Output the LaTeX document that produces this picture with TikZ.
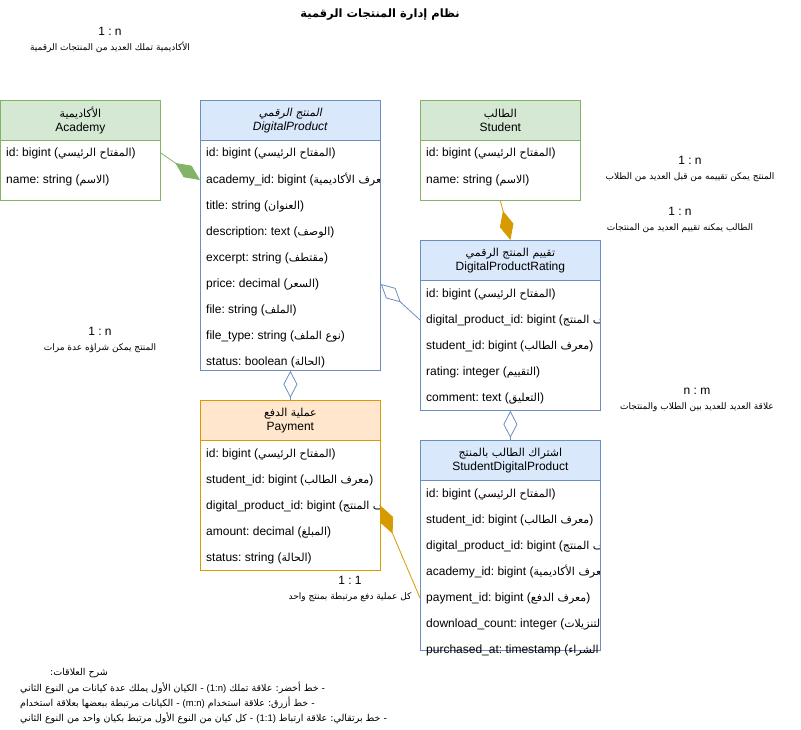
\documentclass[tikz,border=0pt]{standalone}
\usepackage{fontspec}
\setmainfont{Liberation Sans}
\newfontfamily\arabicfont[Script=Arabic]{DejaVu Sans}
\newfontfamily\arabicslfont[Script=Arabic,FakeSlant=0.2]{DejaVu Sans}
\TeXXeTstate=1
\frenchspacing
\usetikzlibrary{arrows.meta}
\definecolor{grnfill}{HTML}{D5E8D4}
\definecolor{grnline}{HTML}{82B366}
\definecolor{bluefill}{HTML}{DAE8FC}
\definecolor{blueline}{HTML}{6C8EBF}
\definecolor{orgfill}{HTML}{FFE6CC}
\definecolor{orgline}{HTML}{D79B00}
\newcommand{\ar}[1]{{\arabicfont\beginR#1\endR}}
\newcommand{\arsm}[1]{{\fontsize{11}{13}\selectfont\arabicfont\beginR#1\endR}}
\newcommand{\arnote}[1]{{\fontsize{9}{11}\selectfont\arabicfont\beginR#1\endR}}
\newcommand{\lt}[1]{\beginL{\rmfamily#1}\endL}

\begin{document}
\frenchspacing
\begin{tikzpicture}[x=1pt,y=-1pt,
  head/.style={draw, line width=0.8pt, anchor=north west, minimum height=40pt, inner sep=0pt, align=center, font=\fontsize{12}{14}\selectfont},
  body/.style={draw, line width=0.8pt, fill=white, anchor=north west, inner sep=0pt},
  row/.style={anchor=west, inner sep=0pt, font=\fontsize{12}{14}\selectfont},
  note/.style={align=center, inner sep=0pt, font=\fontsize{12}{15}\selectfont},
  legend/.style={anchor=west, inner sep=0pt, font=\fontsize{9.5}{11}\selectfont},
  own/.style={line width=0.8pt, -{Diamond[length=30pt,width=14pt]}},
  use/.style={line width=0.8pt, {Diamond[length=27pt,width=14pt,fill=white]}-}]
\useasboundingbox (0,0) rectangle (801,730);

\node[font=\fontsize{11.5}{14}\selectfont\bfseries](title) at (380,15){\ar{نظام إدارة المنتجات الرقمية}};

% academy
\node[head, fill=grnfill, draw=grnline, minimum width=160pt](A) at (0,100){\arsm{الأكاديمية}\\Academy};
\node[body, draw=grnline, minimum width=160pt, minimum height=60pt](Ab) at (0,140){};
\node[row](Aid) at (6,153){id: bigint (\arsm{المفتاح الرئيسي})};
\node[row](Aname) at (6,180){name: string (\arsm{الاسم})};

% digital product
\node[head, fill=bluefill, draw=blueline, minimum width=180pt](D) at (200,100){{\fontsize{11}{13}\selectfont\arabicslfont\beginR المنتج الرقمي\endR}\\\textit{DigitalProduct}};
\node[body, draw=blueline, minimum width=180pt, minimum height=230pt](Db) at (200,140){};
\begin{scope}
\clip (200,140) rectangle (379,380);
\node[row](Did) at (206,153){id: bigint (\arsm{المفتاح الرئيسي})};
\node[row](Dacad) at (206,180){academy\_id: bigint (\arsm{معرف الأكاديمية})};
\node[row](Dtitle) at (206,206){title: string (\arsm{العنوان})};
\node[row](Ddesc) at (206,232){description: text (\arsm{الوصف})};
\node[row](Dexc) at (206,258){excerpt: string (\arsm{مقتطف})};
\node[row](Dprice) at (206,284){price: decimal (\arsm{السعر})};
\node[row](Dfile) at (206,310){file: string (\arsm{الملف})};
\node[row](Dtype) at (206,336){file\_type: string (\arsm{نوع الملف})};
\node[row](Dstat) at (206,362){status: boolean (\arsm{الحالة})};
\end{scope}

% student
\node[head, fill=grnfill, draw=grnline, minimum width=160pt](S) at (420,100){\arsm{الطالب}\\Student};
\node[body, draw=grnline, minimum width=160pt, minimum height=60pt](Sb) at (420,140){};
\node[row](Sid) at (426,153){id: bigint (\arsm{المفتاح الرئيسي})};
\node[row](Sname) at (426,180){name: string (\arsm{الاسم})};

% rating
\node[head, fill=bluefill, draw=blueline, minimum width=180pt](R) at (420,240){\arsm{تقييم المنتج الرقمي}\\DigitalProductRating};
\node[body, draw=blueline, minimum width=180pt, minimum height=130pt](Rb) at (420,280){};
\begin{scope}
\clip (420,280) rectangle (599,420);
\node[row](Rid) at (426,294){id: bigint (\arsm{المفتاح الرئيسي})};
\node[row](Rdpid) at (426,320){digital\_product\_id: bigint (\arsm{معرف المنتج})};
\node[row](Rstid) at (426,346){student\_id: bigint (\arsm{معرف الطالب})};
\node[row](Rrate) at (426,372){rating: integer (\arsm{التقييم})};
\node[row](Rcom) at (426,398){comment: text (\arsm{التعليق})};
\end{scope}

% payment
\node[head, fill=orgfill, draw=orgline, minimum width=180pt](P) at (200,400){\arsm{عملية الدفع}\\Payment};
\node[body, draw=orgline, minimum width=180pt, minimum height=130pt](Pb) at (200,440){};
\begin{scope}
\clip (200,440) rectangle (379,580);
\node[row](Pid) at (206,454){id: bigint (\arsm{المفتاح الرئيسي})};
\node[row](Pstid) at (206,480){student\_id: bigint (\arsm{معرف الطالب})};
\node[row](Pdpid) at (206,506){digital\_product\_id: bigint (\arsm{معرف المنتج})};
\node[row](Pamt) at (206,532){amount: decimal (\arsm{المبلغ})};
\node[row](Pstat) at (206,558){status: string (\arsm{الحالة})};
\end{scope}

% student digital product
\node[head, fill=bluefill, draw=blueline, minimum width=180pt](T) at (420,440){\arsm{اشتراك الطالب بالمنتج}\\StudentDigitalProduct};
\node[body, draw=blueline, minimum width=180pt, minimum height=170pt](Tb) at (420,480){};
\begin{scope}
\clip (420,480) rectangle (599,670);
\node[row](Tid) at (426,494){id: bigint (\arsm{المفتاح الرئيسي})};
\node[row](Tstid) at (426,520){student\_id: bigint (\arsm{معرف الطالب})};
\node[row](Tdpid) at (426,546){digital\_product\_id: bigint (\arsm{معرف المنتج})};
\node[row](Tacad) at (426,572){academy\_id: bigint (\arsm{معرف الأكاديمية})};
\node[row](Tpay) at (426,598){payment\_id: bigint (\arsm{معرف الدفع})};
\node[row](Tdown) at (426,624){download\_count: integer (\arsm{عدد التنزيلات})};
\node[row](Tbuy) at (426,650){purchased\_at: timestamp (\arsm{تاريخ الشراء})};
\end{scope}

\draw[own, grnline](Ab.east |- Aid) -- (Db.west |- Dacad);
\draw[own, orgline](Sb.south) -- (R.north);
\draw[use, blueline](Db.east |- Dprice) -- (Rb.west |- Rdpid);
\draw[use, blueline](Db.south) -- (P.north);
\draw[use, blueline](Rb.south) -- (T.north);
\draw[line width=0.8pt, orgline, {Diamond[length=30pt,width=14pt]}-](Pb.east |- Pdpid) -- (Tb.west |- Tpay);

\node[note](n1) at (110,40){1 : n\\\arnote{الأكاديمية تملك العديد من المنتجات الرقمية}};
\node[note](n2) at (690,169){1 : n\\\arnote{المنتج يمكن تقييمه من قبل العديد من الطلاب}};
\node[note](n3) at (680,220){1 : n\\\arnote{الطالب يمكنه تقييم العديد من المنتجات}};
\node[note](n4) at (100,340){1 : n\\\arnote{المنتج يمكن شراؤه عدة مرات}};
\node[note](n5) at (697,400){n : m\\\arnote{علاقة العديد للعديد بين الطلاب والمنتجات}};
\node[note](n6) at (350,589){1 : 1\\\arnote{كل عملية دفع مرتبطة بمنتج واحد}};

\node[legend](L1) at (50,673){\ar{شرح العلاقات:}};
\node[legend](L2) at (20,688){\ar{- خط أخضر: علاقة تملك \lt{(1:n)} - الكيان الأول يملك عدة كيانات من النوع الثاني}};
\node[legend](L3) at (20,703){\ar{- خط أزرق: علاقة استخدام \lt{(m:n)} - الكيانات مرتبطة ببعضها بعلاقة استخدام}};
\node[legend](L4) at (20,718){\ar{- خط برتقالي: علاقة ارتباط \lt{(1:1)} - كل كيان من النوع الأول مرتبط بكيان واحد من النوع الثاني}};
\end{tikzpicture}
\end{document}
